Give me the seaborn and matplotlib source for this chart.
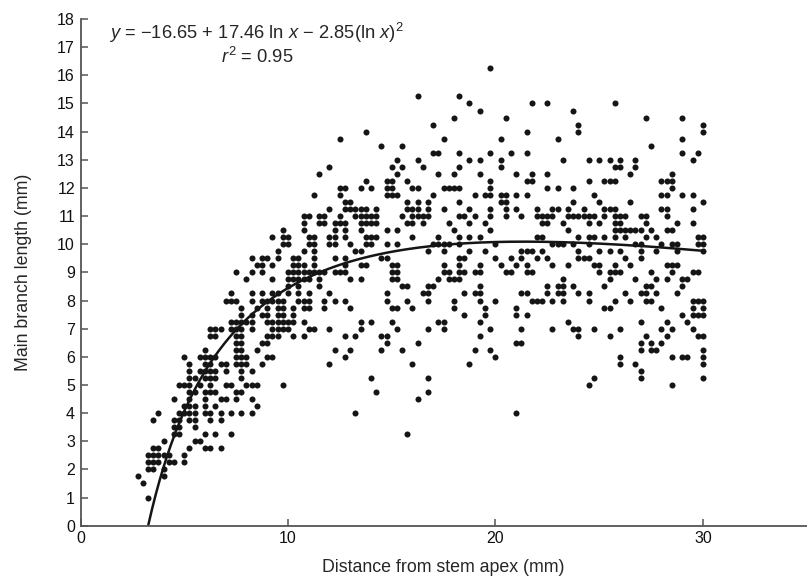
import numpy as np
import pandas as pd
import matplotlib
matplotlib.use("Agg")
import matplotlib.pyplot as plt
import seaborn as sns

# Points, grouped by branch length.
# Each entry: (main branch length in mm, [distances from stem apex in mm])
rows_low = [
    (1.0, [3.25]),
    (1.5, [3.0]),
    (1.75, [2.75, 4.0]),
    (2.0, [3.25, 3.5, 4.0]),
    (2.25, [3.25, 3.5, 3.75, 4.25, 4.5, 5.0]),
    (2.5, [3.25, 3.5, 3.75, 4.0, 4.25, 5.0]),
    (2.75, [3.5, 3.75, 5.25, 6.0, 6.25, 6.75]),
    (3.0, [4.0, 5.5, 5.75]),
    (3.25, [4.5, 4.75, 6.0, 6.5, 7.25, 15.75]),
    (3.5, [4.5, 4.75, 5.5]),
    (3.75, [3.5, 4.5, 4.75, 5.25, 5.5, 6.25, 6.75]),
    (4.0, [3.75, 4.75, 5.0, 5.25, 5.5, 6.0, 6.25, 6.75, 7.25, 7.75, 8.25, 13.25, 21.0]),
]

rows_mid = [
    (4.25, [5.0, 5.25, 5.5, 6.0, 6.5, 8.5]),
    (4.5, [4.5, 5.25, 6.0, 6.75, 7.0, 7.5, 8.25, 16.25]),
    (4.75, [5.25, 5.5, 6.0, 6.25, 6.5, 7.5, 7.75, 14.25, 16.75]),
    (5.0, [4.75, 5.0, 5.25, 5.75, 6.25, 7.0, 7.25, 8.0, 8.25, 8.5, 9.75, 24.5, 28.5]),
    (5.25, [5.25, 5.5, 6.0, 6.25, 6.5, 7.75, 14.0, 16.75, 24.75, 27.0, 30.0]),
    (5.5, [5.25, 5.75, 6.0, 6.25, 6.5, 7.0, 7.75, 8.25, 27.0]),
    (5.75, [5.25, 6.0, 6.25, 6.75, 7.0, 7.5, 7.75, 8.0, 8.75, 12.0, 16.0, 18.75, 26.0, 26.75, 30.0]),
    (6.0, [5.0, 5.75, 6.0, 6.25, 6.5, 7.5, 7.75, 8.0, 9.0, 9.25, 12.75, 20.0, 26.0, 28.5, 29.0, 29.25, 30.0]),
    (6.25, [6.0, 7.5, 7.75, 8.5, 12.25, 13.0, 14.5, 15.5, 19.0, 19.75, 27.0, 27.5, 27.75, 30.0]),
    (6.5, [7.5, 7.75, 8.75, 9.0, 14.75, 16.25, 21.0, 21.25, 27.0, 27.5, 28.0]),
    (6.75, [6.25, 6.5, 7.5, 7.75, 9.0, 9.25, 9.5, 10.25, 10.75, 12.75, 13.25, 14.5, 14.75,
            19.25, 24.0, 25.5, 27.25, 28.25, 29.75, 30.0]),
    (7.0, [6.25, 6.5, 6.75, 7.25, 7.5, 7.75, 8.25, 9.25, 9.5, 9.75, 10.0, 11.0, 11.25, 12.0,
           13.5, 15.25, 16.75, 17.5, 19.75, 21.25, 22.75, 23.75, 24.0, 24.75, 26.0, 28.0, 28.5, 29.5]),
    (7.25, [7.25, 7.5, 7.75, 8.0, 8.25, 9.0, 9.25, 9.5, 9.75, 10.0, 10.25, 10.75, 13.5, 14.0,
            15.0, 17.25, 17.5, 19.25, 23.5, 27.0, 28.25, 29.25]),
    (7.5, [7.75, 8.25, 8.75, 9.0, 9.5, 9.75, 10.25, 18.5, 19.5, 21.0, 21.5, 29.0, 29.5, 29.75, 30.0]),
    (7.75, [7.75, 8.5, 9.0, 9.5, 9.75, 10.25, 10.75, 11.0, 11.75, 13.0, 15.0, 15.25, 16.0, 18.0,
            19.5, 21.0, 25.25, 25.5, 28.0, 29.5, 30.0]),
    (8.0, [7.0, 7.25, 7.5, 8.25, 8.75, 9.0, 9.25, 9.5, 9.75, 10.5, 10.75, 11.0, 11.75, 12.25,
           12.75, 14.75, 15.75, 16.75, 18.0, 19.25, 20.0, 21.75, 22.0, 22.25, 22.75, 23.25, 24.5,
           25.75, 26.5, 27.25, 27.5, 29.5, 29.75, 30.0]),
]

rows_high = [
    (8.25, [7.25, 8.25, 8.75, 9.25, 9.5, 10.0, 10.5, 11.0, 12.0, 14.75, 16.5, 16.75, 18.5, 19.0,
            19.25, 21.25, 21.5, 22.5, 23.0, 23.25, 24.0, 24.5, 26.25, 27.0, 27.25, 27.75, 28.75]),
    (8.5, [10.0, 10.5, 11.5, 15.5, 15.75, 16.75, 17.0, 19.25, 22.5, 23.0, 23.25, 23.75, 25.25,
           27.25, 27.5, 29.0]),
    (8.75, [8.0, 9.25, 10.0, 10.25, 10.5, 10.75, 11.0, 11.5, 13.0, 13.5, 15.0, 15.25, 17.25,
            17.75, 18.0, 18.25, 23.25, 25.5, 26.75, 27.75, 28.25, 29.0, 29.25]),
    (9.0, [7.5, 8.25, 8.75, 10.0, 10.25, 10.5, 10.75, 11.0, 11.25, 11.5, 11.75, 12.25, 12.5,
           12.75, 15.0, 15.25, 17.5, 17.75, 18.25, 18.5, 19.0, 19.25, 20.5, 20.75, 21.5, 21.75,
           25.0, 25.5, 25.75, 26.0, 27.5, 28.5, 29.5, 29.75]),
    (9.25, [8.5, 8.75, 9.25, 10.25, 10.5, 10.75, 11.25, 12.75, 13.5, 13.75, 15.0, 15.25, 17.5,
            18.25, 19.25, 20.25, 21.0, 21.5, 22.75, 23.5, 24.75, 25.0, 25.75, 26.5, 28.25, 28.5, 28.75]),
    (9.5, [8.25, 8.75, 9.0, 9.5, 10.25, 10.5, 11.25, 12.25, 12.75, 14.5, 14.75, 18.25, 18.5,
           20.0, 20.75, 21.25, 22.0, 22.5, 24.0, 24.25, 24.5, 26.25, 27.0]),
    (9.75, [9.5, 10.75, 11.25, 13.25, 13.5, 16.75, 17.5, 18.75, 19.5, 21.25, 21.5, 21.75, 22.25,
            24.0, 25.0, 25.5, 26.0, 27.0, 27.75, 28.75, 30.0]),
    (10.0, [9.75, 10.0, 11.0, 11.25, 12.0, 12.25, 13.0, 13.75, 14.0, 14.75, 15.25, 17.0, 17.25,
            17.5, 17.75, 18.25, 20.0, 22.75, 23.0, 23.25, 23.75, 24.5, 26.75, 27.0, 28.0, 28.5,
            28.75, 29.75, 30.0]),
    (10.25, [9.25, 9.75, 10.0, 11.0, 11.25, 12.0, 12.25, 12.75, 13.75, 14.0, 14.25, 16.0, 17.25,
             18.25, 18.75, 19.25, 22.0, 22.25, 24.0, 24.5, 24.75, 25.25, 25.75, 26.25, 27.25,
             27.75, 29.75, 30.0]),
    (10.5, [9.75, 10.75, 12.25, 12.75, 13.5, 14.75, 15.25, 18.0, 19.75, 23.5, 25.75, 26.0, 26.25,
            26.5, 26.75, 27.0, 27.5, 28.25, 28.5]),
    (10.75, [10.75, 11.5, 11.75, 12.25, 12.5, 12.75, 13.5, 13.75, 14.0, 14.25, 15.75, 16.0, 16.5,
             17.75, 18.75, 19.5, 22.25, 22.5, 23.25, 24.5, 25.0, 25.75, 26.0, 27.25, 28.75, 29.5]),
    (11.0, [10.75, 11.0, 11.5, 11.75, 12.5, 13.25, 13.5, 13.75, 14.0, 14.25, 15.5, 16.0, 16.25,
            16.5, 16.75, 18.25, 18.5, 19.0, 19.75, 20.5, 21.25, 22.0, 22.25, 22.5, 22.75, 23.5,
            23.75, 24.0, 24.25, 24.5, 24.75, 25.25, 25.75, 26.0, 26.25, 27.0, 27.25, 28.25]),
    (11.25, [12.0, 12.75, 13.0, 13.25, 13.5, 13.75, 14.25, 15.75, 16.0, 16.25, 16.75, 17.5, 18.75,
             19.75, 20.5, 21.0, 22.0, 22.75, 23.0, 23.5, 24.25, 25.25, 25.5, 25.75, 28.0, 28.25, 29.5]),
    (11.5, [12.75, 13.0, 15.75, 16.25, 16.75, 18.25, 20.25, 20.5, 23.75, 25.0, 26.5, 30.0]),
    (11.75, [11.25, 12.5, 14.75, 15.0, 15.25, 17.0, 19.0, 19.5, 19.75, 20.25, 20.5, 21.0, 21.5,
             24.75, 28.0, 28.25, 29.0, 29.5]),
    (12.0, [12.5, 12.75, 13.5, 14.0, 14.75, 15.0, 16.0, 16.25, 17.5, 17.75, 18.0, 18.25, 19.75,
            22.5, 23.0, 23.75, 28.5]),
]

rows_top = [
    (12.25, [13.75, 14.75, 15.0, 15.75, 19.75, 21.5, 21.75, 24.5, 25.25, 25.5, 25.75, 28.0, 28.25, 28.5]),
    (12.5, [11.5, 15.25, 17.25, 18.0, 19.25, 21.0, 21.75, 22.5, 26.5, 28.5]),
    (12.75, [12.0, 15.0, 15.5, 16.5, 18.25, 20.25, 25.75, 26.0, 26.75]),
    (13.0, [15.25, 16.25, 18.75, 19.25, 20.25, 23.25, 24.5, 25.0, 25.5, 26.0, 26.75, 29.5]),
    (13.25, [17.0, 17.25, 18.25, 19.75, 20.75, 21.5, 29.0, 29.75]),
    (13.5, [14.5, 15.5, 27.5]),
    (13.75, [12.5, 17.5, 20.25, 23.0, 29.0]),
    (14.0, [13.75, 21.5, 24.0, 30.0]),
    (14.25, [17.0, 24.0, 30.0]),
    (14.5, [18.0, 20.5, 27.25, 29.0]),
    (14.75, [19.25, 23.75]),
    (15.0, [18.75, 21.75, 22.5, 25.75]),
    (15.25, [16.25, 18.25]),
    (16.25, [19.75]),
]

# fitted curve: y = a + b ln x + c (ln x)^2
fit_a, fit_b, fit_c = -16.65, 17.46, -2.85
fit_r2 = 0.95
fit_xmin, fit_xmax = 3.27, 30.0

x_ticks = [0, 10, 20, 30]
y_ticks = list(range(0, 19))

records = []
for rows in (rows_low, rows_mid, rows_high, rows_top):
    for length, dists in rows:
        for d in dists:
            records.append({"distance": d, "length": length})
df = pd.DataFrame(records)

curve_x = np.linspace(fit_xmin, fit_xmax, 300)
curve_y = fit_a + fit_b * np.log(curve_x) + fit_c * np.log(curve_x) ** 2

sns.set_style("ticks")
plt.rcParams['font.family'] = ['Liberation Sans', 'DejaVu Sans']
plt.rcParams['mathtext.fontset'] = 'custom'
plt.rcParams['mathtext.rm'] = 'Liberation Sans'
plt.rcParams['mathtext.it'] = 'Liberation Sans:italic'

fig = plt.figure(figsize=(8.07, 5.81), dpi=100)
ax = fig.add_axes([0.0998, 0.0952, 0.8997, 0.872])

sns.scatterplot(data=df, x="distance", y="length", ax=ax, color="#151515",
                s=19, marker="o", linewidth=0, legend=False)
sns.lineplot(x=curve_x, y=curve_y, ax=ax, color="#151515", linewidth=1.8)

ax.set_xlim(0, 35)
ax.set_ylim(0, 18)
ax.set_xticks(x_ticks)
ax.set_yticks(y_ticks)
ax.tick_params(direction="in", length=5, width=1.1, color="#555555",
               labelsize=11.5, labelcolor="#111111", pad=4)

for side in ["top", "right"]:
    ax.spines[side].set_visible(False)
for side in ["left", "bottom"]:
    ax.spines[side].set_color("#555555")
    ax.spines[side].set_linewidth(1.3)

ax.set_xlabel("Distance from stem apex (mm)", fontsize=12.8, labelpad=9)
ax.set_ylabel("Main branch length (mm)", fontsize=12.8, labelpad=18)

ax.text(8.5, 17.5, r"$y$ = −16.65 + 17.46 ln $x$ − 2.85(ln $x$)$^{2}$",
        ha="center", va="center", fontsize=13.2)
ax.text(8.5, 16.65, r"$r^{2}$ = " + f"{fit_r2:.2f}",
        ha="center", va="center", fontsize=13.2)

plt.savefig("out.png", dpi=100)
